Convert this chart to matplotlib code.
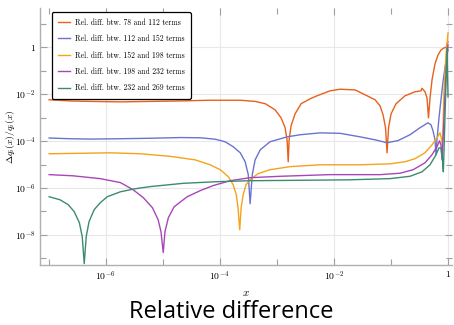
import numpy as np
import matplotlib.pyplot as plt

plt.rcParams['mathtext.fontset'] = 'cm'

# curves as (log10 x, log10 of relative difference)
rd1_lx = [-6.99, -6.62, -6.27, -5.74, -5.22, -4.69, -4.17, -3.64, -3.38, -3.20, -3.03, -2.925, -2.855,
          -2.82, -2.80, -2.785, -2.75, -2.68, -2.575, -2.417, -2.294, -2.067, -1.891, -1.629, -1.419,
          -1.278, -1.191, -1.138, -1.095, -1.068, -1.042, -0.998, -0.911, -0.753, -0.578, -0.473,
          -0.455, -0.403, -0.368, -0.342, -0.315, -0.280, -0.228, -0.175, -0.123, -0.070, -0.035, 0.0]
rd1_ly = [-2.24, -2.29, -2.31, -2.33, -2.31, -2.29, -2.26, -2.26, -2.31, -2.41, -2.67, -3.01, -3.43,
          -3.95, -4.88, -3.95, -3.35, -2.84, -2.41, -2.20, -2.07, -1.86, -1.79, -1.82, -2.07,
          -2.24, -2.50, -2.88, -3.43, -4.50, -3.43, -2.84, -2.41, -2.07, -1.90, -1.86,
          -1.75, -1.90, -2.16, -3.01, -2.16, -1.39, -0.71, -0.33, -0.12, -0.03, -0.01, 0.23]

rd2_lx = [-6.99, -6.62, -6.27, -5.74, -5.22, -4.69, -4.34, -4.08, -3.905, -3.765, -3.64, -3.555, -3.50,
          -3.468, -3.43, -3.38, -3.29, -3.12, -2.82, -2.59, -2.24, -1.89, -1.54, -1.28, -1.07, -0.876,
          -0.666, -0.49, -0.35, -0.298, -0.263, -0.228, -0.21, -0.193, -0.158, -0.123, -0.088,
          -0.053, -0.0175, 0.0]
rd2_ly = [-3.87, -3.90, -3.915, -3.90, -3.88, -3.85, -3.86, -3.92, -4.03, -4.24, -4.50, -4.88, -5.43,
          -6.67, -5.43, -4.80, -4.37, -4.03, -3.82, -3.73, -3.65, -3.67, -3.82, -3.945, -4.07, -3.98,
          -3.73, -3.43, -3.22, -3.31, -3.56, -3.945, -4.58, -3.945, -3.01, -2.24, -1.48,
          -0.88, -0.33, -0.11]

rd3_lx = [-6.99, -6.44, -5.92, -5.39, -4.87, -4.43, -4.17, -3.99, -3.85, -3.765, -3.71, -3.68, -3.65,
          -3.625, -3.59, -3.54, -3.47, -3.33, -3.12, -2.77, -2.24, -1.54, -1.016, -0.753, -0.578,
          -0.403, -0.28, -0.193, -0.14, -0.114, -0.096, -0.07, -0.035, 0.0]
rd3_ly = [-4.54, -4.52, -4.50, -4.54, -4.65, -4.80, -5.01, -5.22, -5.52, -5.86, -6.29, -6.84, -7.78,
          -6.84, -6.29, -5.86, -5.65, -5.39, -5.22, -5.09, -5.01, -5.01, -4.97, -4.88, -4.75,
          -4.50, -4.16, -3.86, -3.65, -3.90, -4.20, -1.83, -0.33, 0.61]

rd4_lx = [-6.99, -6.57, -6.095, -5.74, -5.52, -5.34, -5.18, -5.08, -5.03, -4.99, -4.96, -4.90, -4.80,
          -4.57, -4.34, -4.12, -3.82, -3.47, -2.94, -2.07, -1.19, -0.84, -0.61, -0.40, -0.28,
          -0.193, -0.149, -0.123, -0.105, -0.088, -0.053, -0.0175, 0.0]
rd4_ly = [-5.43, -5.48, -5.60, -5.77, -6.07, -6.41, -6.84, -7.35, -7.86, -8.75, -7.86, -7.26, -6.80,
          -6.37, -6.11, -5.90, -5.69, -5.56, -5.50, -5.43, -5.43, -5.37, -5.22, -4.92, -4.58,
          -4.24, -3.99, -4.16, -4.80, -3.94, -2.03, -0.33, 0.10]

rd5_lx = [-6.99, -6.80, -6.655, -6.55, -6.46, -6.41, -6.375, -6.34, -6.29, -6.20, -6.095, -5.97, -5.74,
          -5.48, -5.22, -4.64, -4.05, -3.47, -2.59, -1.72, -1.016, -0.666, -0.455, -0.315, -0.21,
          -0.158, -0.123, -0.096, -0.082, -0.07, -0.044, -0.0175, 0.0]
rd5_ly = [-6.37, -6.50, -6.71, -7.01, -7.48, -8.07, -9.22, -8.07, -7.43, -6.92, -6.63, -6.37, -6.16,
          -6.03, -5.94, -5.80, -5.73, -5.69, -5.67, -5.65, -5.60, -5.50, -5.31, -5.01, -4.58,
          -4.29, -4.29, -4.80, -5.31, -4.37, -2.24, -0.03, -2.12]

labels = ['Rel. diff. btw. 78 and 112 terms', 'Rel. diff. btw. 112 and 152 terms',
          'Rel. diff. btw. 152 and 198 terms', 'Rel. diff. btw. 198 and 232 terms',
          'Rel. diff. btw. 232 and 269 terms']
colors = ['#e8601c', '#6a74cc', '#f5a31a', '#a846b8', '#3d8b6e']

curves = [(rd1_lx, rd1_ly), (rd2_lx, rd2_ly), (rd3_lx, rd3_ly), (rd4_lx, rd4_ly), (rd5_lx, rd5_ly)]

fig = plt.figure(figsize=(4.54, 3.25), dpi=100)
ax = fig.add_axes([40 / 454, 1 - 265 / 325, 412 / 454, 257 / 325])

for (lx, ly), lab, col in zip(curves, labels, colors):
    ax.plot(10 ** np.array(lx), 10 ** np.array(ly), color=col, lw=1.0, label=lab)

ax.set_xscale('log')
ax.set_yscale('log')
ax.set_xlim(10 ** -7.15, 10 ** 0.07)
ax.set_ylim(10 ** -9.28, 10 ** 1.67)

ax.set_xticks([1e-6, 1e-4, 1e-2, 1])
ax.set_xticklabels([r'$10^{-6}$', r'$10^{-4}$', r'$10^{-2}$', r'$1$'])
ax.set_xticks([1e-7, 1e-5, 1e-3, 1e-1], minor=True)
ax.set_xticklabels([], minor=True)
ax.set_yticks([1e-8, 1e-6, 1e-4, 1e-2, 1])
ax.set_yticklabels([r'$10^{-8}$', r'$10^{-6}$', r'$10^{-4}$', r'$10^{-2}$', r'$1$'])
ax.set_yticks([1e-9, 1e-7, 1e-5, 1e-3, 1e-1, 10], minor=True)
ax.set_yticklabels([], minor=True)

ax.tick_params(which='both', direction='in', top=True, right=True, color='#a0a0a0',
               labelsize=7, pad=3)
ax.tick_params(which='major', length=5, width=0.8)
ax.tick_params(which='minor', length=4, width=0.8)
ax.grid(True, which='major', color='#e8e8e8', lw=0.8)
ax.set_axisbelow(True)

for s in ['top', 'right']:
    ax.spines[s].set_visible(False)
for s in ['left', 'bottom']:
    ax.spines[s].set_color('#b0b0b0')
    ax.spines[s].set_linewidth(1.0)

ax.set_xlabel(r'$x$', fontsize=8)
ax.xaxis.set_label_coords(0.5, -0.09)
ax.set_ylabel(r'$\Delta q_i(x)/q_i(x)$', fontsize=7)
ax.yaxis.set_label_coords(-0.057, 0.5)

leg = ax.legend(loc='upper left', bbox_to_anchor=(0.029, 0.984), borderaxespad=0,
                prop={'family': 'cmr10', 'size': 5.5}, handlelength=1.5, handletextpad=0.7,
                labelspacing=1.05, borderpad=0.8, fancybox=True, framealpha=1)
leg.get_frame().set_edgecolor('black')
leg.get_frame().set_linewidth(0.9)

fig.text(0.51, 1 - 312 / 325, 'Relative difference', ha='center', va='center',
         fontsize=17, family='Open Sans')

fig.savefig('out.png', dpi=100)
